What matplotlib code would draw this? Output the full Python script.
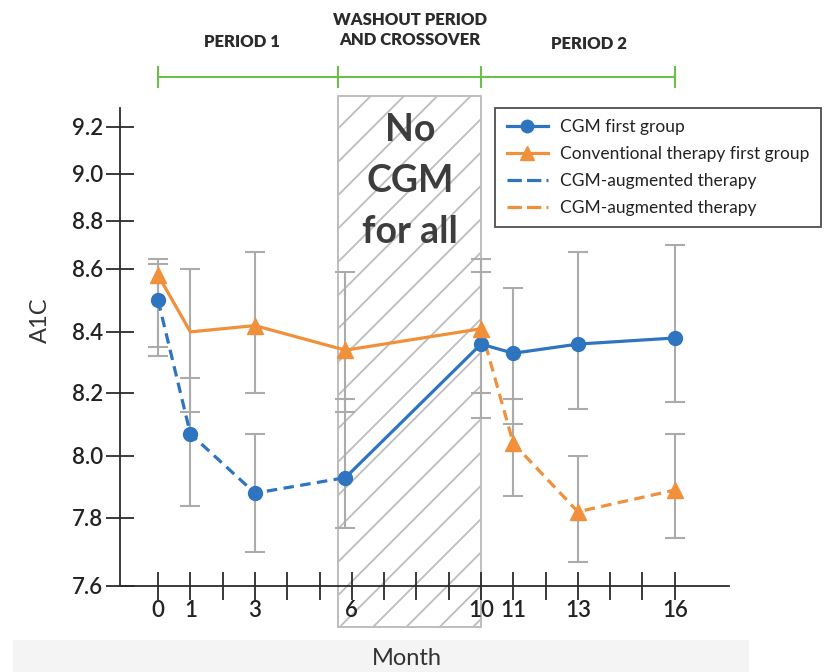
import numpy as np
import matplotlib
matplotlib.use("Agg")
import matplotlib.pyplot as plt
from matplotlib.lines import Line2D
from matplotlib.patches import Rectangle
import matplotlib.transforms as mtransforms

plt.rcParams['font.family'] = ['Lato', 'DejaVu Sans']

# Datos
meses = [0, 1, 3, 5.8, 10, 11, 13, 16]

cgm_media = [8.50, 8.07, 7.88, 7.93, 8.36, 8.33, 8.36, 8.38]
cgm_alto = [8.62, 8.25, 8.07, 8.18, 8.59, 8.54, 8.67, 8.70]
cgm_bajo = [8.35, 7.84, 7.70, 7.77, 8.12, 8.10, 8.15, 8.17]

conv_media = [8.58, 8.40, 8.42, 8.34, 8.41, 8.04, 7.82, 7.89]
conv_alto = [8.64, 8.60, 8.67, 8.59, 8.64, 8.18, 8.00, 8.07]
conv_bajo = [8.32, 8.14, 8.20, 8.14, 8.20, 7.87, 7.67, 7.74]

meses_etiqueta = [0, 1, 3, 6, 10, 11, 13, 16]
y_ticks = [7.6, 7.8, 8.0, 8.2, 8.4, 8.6, 8.8, 9.0, 9.2]

etiquetas_leyenda = ['CGM first group', 'Conventional therapy first group',
                     'CGM-augmented therapy', 'CGM-augmented therapy']

AZUL = '#2e74bf'
NARANJA = '#f0903a'
GRIS = '#ababab'
OSCURO = '#2b2b2b'

# El eje Y original no es lineal: calibracion por tramos
escala_val = [7.0, 7.6, 7.8, 8.0, 8.2, 8.4, 8.6, 8.8, 9.0, 9.2, 10.0]
escala_pos = [-790, -586, -518, -456, -393, -332, -269, -221, -174, -127, 61]


def adelante(v):
    return np.interp(v, escala_val, escala_pos)


def atras(p):
    return np.interp(p, escala_pos, escala_val)


plt.rcParams['hatch.color'] = '#c4c4c4'
plt.rcParams['hatch.linewidth'] = 1.3

fig = plt.figure(figsize=(8.27, 6.72), dpi=100)
ax = fig.add_axes([0.1451, 0.128, 0.7364, 0.7113])
ax.set_yscale('function', functions=(adelante, atras))
ax.set_xlim(-1.18, 17.68)
ax.set_ylim(7.6, 9.28)

# Franja gris inferior
fig.patches.append(Rectangle((0.016, 0), 0.89, 0.048, transform=fig.transFigure,
                             facecolor='#f4f4f4', edgecolor='none', zorder=-5))

# Zona rayada (periodo de lavado)
zona = Rectangle((5.57, 7.48), 4.43, 9.33 - 7.48, facecolor='white',
                 edgecolor='#bdbdbd', hatch='/', linewidth=1.4, zorder=0.5,
                 clip_on=False)
ax.add_patch(zona)
ax.text(7.8, 8.97, 'No\nCGM\nfor all', ha='center', va='center', fontsize=27,
        fontweight='bold', color='#3d3d3d', linespacing=1.62, zorder=3)

# Barras de error
for media, alto, bajo in [(cgm_media, cgm_alto, cgm_bajo), (conv_media, conv_alto, conv_bajo)]:
    err = [np.array(media) - np.array(bajo), np.array(alto) - np.array(media)]
    ax.errorbar(meses, media, yerr=err, fmt='none', ecolor=GRIS, elinewidth=1.5,
                capsize=7, capthick=1.5, zorder=2)

guion = (0, (3.3, 2.0))
# CGM primero: discontinua hasta el mes 6, continua despues
ax.plot(meses[:4], cgm_media[:4], color=AZUL, lw=2.3, linestyle=guion, zorder=4)
ax.plot(meses[3:], cgm_media[3:], color=AZUL, lw=2.3, zorder=4)
ax.plot(meses, cgm_media, 'o', color=AZUL, markersize=10, zorder=5)

# Terapia convencional primero: continua hasta el mes 10, discontinua despues
ax.plot(meses[:5], conv_media[:5], color=NARANJA, lw=2.3, zorder=4)
ax.plot(meses[4:], conv_media[4:], color=NARANJA, lw=2.3, linestyle=guion, zorder=4)
ax.plot(meses, conv_media, '^', color=NARANJA, markersize=11,
        markevery=[0, 2, 3, 4, 5, 6, 7], zorder=5)

# Ejes
for lado in ['top', 'right']:
    ax.spines[lado].set_visible(False)
for lado in ['left', 'bottom']:
    ax.spines[lado].set_linewidth(1.3)
    ax.spines[lado].set_color(OSCURO)

ax.set_yticks(y_ticks)
ax.set_yticklabels([f'{v:.1f}' for v in y_ticks])
ax.set_xticks(meses_etiqueta)
ax.set_xticklabels([str(m) for m in meses_etiqueta])
ax.set_xticks([m for m in range(17) if m not in meses_etiqueta], minor=True)
ax.yaxis.set_minor_locator(matplotlib.ticker.NullLocator())
ax.tick_params(axis='both', which='both', direction='inout', length=20, width=1.3,
               color=OSCURO, labelsize=16, labelcolor='#222222')
ax.tick_params(axis='y', pad=2)
ax.tick_params(axis='x', pad=0)
for t in ax.get_xticklabels() + ax.get_yticklabels():
    t.set_fontweight('semibold')

ax.set_ylabel('A1C', fontsize=17, color='#333333')
ax.yaxis.set_label_coords(-0.131, 0.556)
ax.set_xlabel('Month', fontsize=17, color='#333333')
ax.xaxis.set_label_coords(0.471, -0.151)
ax.xaxis.label.set_va('center')
ax.yaxis.label.set_va('center')

# Linea de tiempo verde superior
trans = mtransforms.blended_transform_factory(ax.transData, ax.transAxes)
cortes = [0, 5.57, 10, 16]
ax.plot([cortes[0], cortes[-1]], [1.065, 1.065], color='#6dbe4b', lw=1.5,
        transform=trans, clip_on=False)
for c in cortes:
    ax.plot([c, c], [1.044, 1.086], color='#6dbe4b', lw=1.5, transform=trans, clip_on=False)

ax.text(2.6, 1.138, 'PERIOD 1', transform=trans, ha='center', va='center',
        fontsize=12, fontweight='heavy', color='#2b2b2b')
ax.text(7.8, 1.163, 'WASHOUT PERIOD\nAND CROSSOVER', transform=trans, ha='center',
        va='center', fontsize=12, fontweight='heavy', color='#2b2b2b', linespacing=1.3)
ax.text(13.35, 1.134, 'PERIOD 2', transform=trans, ha='center', va='center',
        fontsize=12, fontweight='heavy', color='#2b2b2b')

# Leyenda
manejadores = [
    Line2D([], [], color=AZUL, lw=2.3, marker='o', markersize=9),
    Line2D([], [], color=NARANJA, lw=2.3, marker='^', markersize=10),
    Line2D([], [], color=AZUL, lw=2.3, linestyle=(0, (4.5, 1.6))),
    Line2D([], [], color=NARANJA, lw=2.3, linestyle=(0, (4.5, 1.6))),
]
ley = fig.legend(manejadores, etiquetas_leyenda, loc='upper left',
                 bbox_to_anchor=(0.599, 0.839), fontsize=12.5, frameon=True,
                 fancybox=False, edgecolor='#222222', handlelength=2.4,
                 labelspacing=0.62, borderpad=0.65, handletextpad=0.7,
                 borderaxespad=0)
ley.get_frame().set_linewidth(1.3)
for t in ley.get_texts():
    t.set_color('#222222')

fig.savefig('out.png', dpi=100)
